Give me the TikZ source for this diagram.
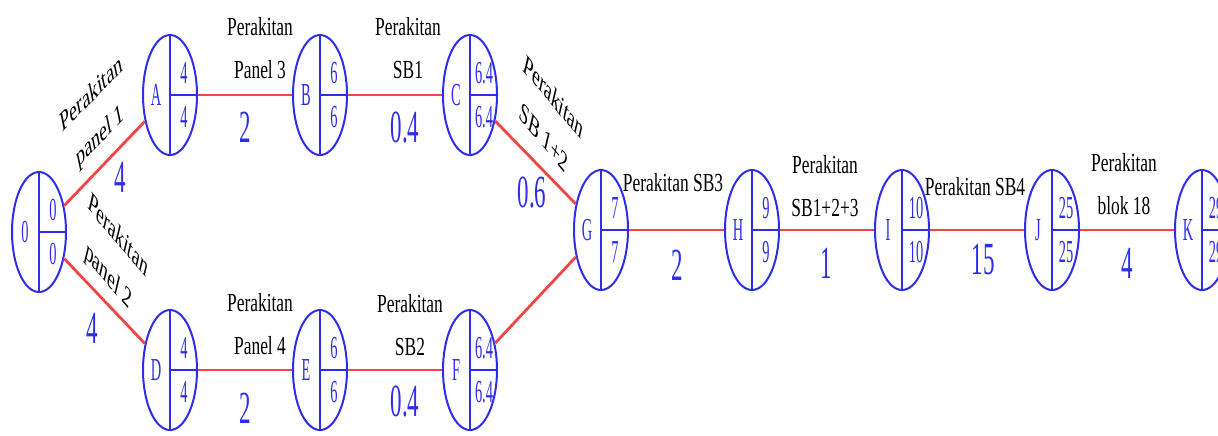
\documentclass[tikz,border=0pt]{standalone}
\usepackage{fontspec}
\setmainfont{Liberation Serif}
\newfontfamily\actfont[FakeStretch=0.67]{Liberation Serif}
\newfontfamily\slantfont[FakeStretch=1.4]{Liberation Serif}
\newfontfamily\durfont[FakeStretch=0.5]{Liberation Serif}
\newfontfamily\evfont[FakeStretch=0.45]{Liberation Serif}
\usetikzlibrary{shapes.geometric}
\definecolor{netblue}{RGB}{45,45,235}
\definecolor{netred}{RGB}{240,70,70}

% event: name, position, letter, top, bottom
\newcommand{\evnode}[5]{%
  \node[ev] (#1) at (#2) {};
  \draw[evline] (#1.north) -- (#1.south);
  \draw[evline] (#1.center) -- (#1.east);
  \node[evtxt] (#1-n) at ([xshift=-7pt]#1.center) {#3};
  \node[evtxt] (#1-t) at ([xshift=7pt,yshift=11pt]#1.center) {#4};
  \node[evtxt] (#1-b) at ([xshift=7pt,yshift=-11pt]#1.center) {#5};
}

\begin{document}
\begin{tikzpicture}[x=0.5pt, y=-0.5pt,
    ev/.style = {draw=netblue, ellipse, line width=1pt, minimum width=27pt, minimum height=60pt, inner sep=0pt},
    evline/.style = {draw=netblue, line width=1pt},
    evtxt/.style = {text=netblue, inner sep=0pt, font=\evfont\fontsize{16pt}{16pt}\selectfont},
    act/.style = {draw=netred, line width=1.4pt},
    actlbl/.style = {align=center, inner sep=0pt, font=\actfont\fontsize{13pt}{21.5pt}\selectfont},
    slantlbl/.style = {align=center, inner sep=0pt, xscale=0.45, transform shape, font=\slantfont\fontsize{14pt}{23pt}\selectfont},
    durlbl/.style = {text=netblue, inner sep=0pt, font=\durfont\fontsize{23pt}{23pt}\selectfont}]
    \useasboundingbox (0,0) rectangle (1218,435);

    % events
    \evnode{O}{39,232}{0}{0}{0}
    \evnode{A}{170,95}{A}{4}{4}
    \evnode{B}{320,95}{B}{6}{6}
    \evnode{C}{470,95}{C}{6.4}{6.4}
    \evnode{D}{170,370}{D}{4}{4}
    \evnode{E}{320,370}{E}{6}{6}
    \evnode{F}{470,370}{F}{6.4}{6.4}
    \evnode{G}{601,230}{G}{7}{7}
    \evnode{H}{752,230}{H}{9}{9}
    \evnode{I}{902,230}{I}{10}{10}
    \evnode{J}{1052,230}{J}{25}{25}
    \evnode{K}{1202,230}{K}{29}{29}

    % activities
    \path[act]
    (O) edge (A)
    (O) edge (D)
    (A) edge (B)
    (B) edge (C)
    (D) edge (E)
    (E) edge (F)
    (C) edge (G)
    (F) edge (G)
    (G) edge (H)
    (H) edge (I)
    (I) edge (J)
    (J) edge (K);

    % names and durations
    \node[slantlbl, rotate=25] (nOA) at (96,116) {Perakitan\\panel 1};
    \node[durlbl] (dOA) at (120,177) {4};
    \node[slantlbl, rotate=-28] (nOD) at (113,257) {Perakitan\\panel 2};
    \node[durlbl] (dOD) at (92,328) {4};
    \node[actlbl] (nAB) at (260,48) {Perakitan\\Panel 3};
    \node[durlbl] (dAB) at (245,127) {2};
    \node[actlbl] (nBC) at (408,48) {Perakitan\\SB1};
    \node[durlbl] (dBC) at (405,128) {0.4};
    \node[actlbl] (nDE) at (260,324) {Perakitan\\Panel 4};
    \node[durlbl] (dDE) at (245,408) {2};
    \node[actlbl] (nEF) at (410,325) {Perakitan\\SB2};
    \node[durlbl] (dEF) at (405,402) {0.4};
    \node[slantlbl, rotate=-28] (nCG) at (549,117) {Perakitan\\SB 1+2};
    \node[durlbl] (dCG) at (532,193) {0.6};
    \node[actlbl] (nGH) at (673,183) {Perakitan SB3};
    \node[durlbl] (dGH) at (677,265) {2};
    \node[actlbl] (nHI) at (825,186) {Perakitan\\SB1+2+3};
    \node[durlbl] (dHI) at (826,263) {1};
    \node[actlbl] (nIJ) at (975,187) {Perakitan SB4};
    \node[durlbl] (dIJ) at (983,260) {15};
    \node[actlbl] (nJK) at (1124,184) {Perakitan\\blok 18};
    \node[durlbl] (dJK) at (1127,263) {4};
\end{tikzpicture}
\end{document}
